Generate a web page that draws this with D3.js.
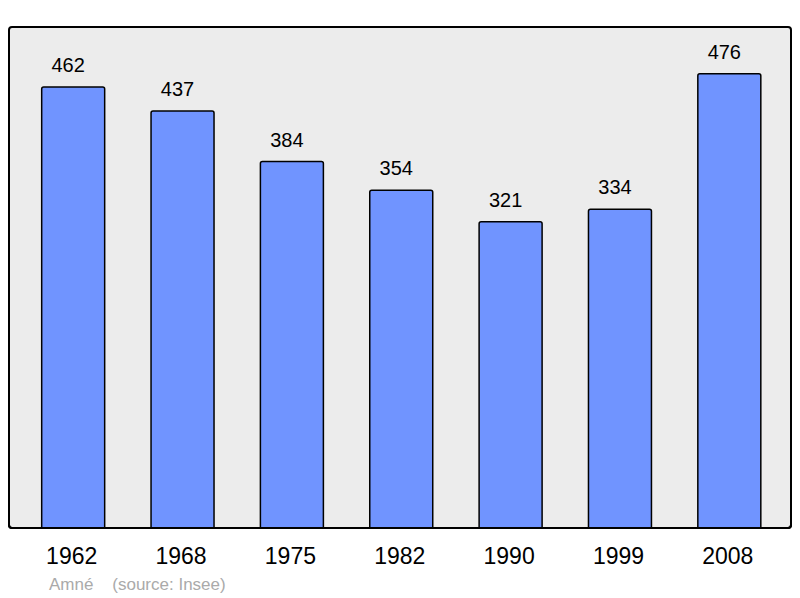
<!DOCTYPE html>
<meta charset="utf-8">
<script src="https://d3js.org/d3.v7.min.js"></script>
<title>Amné</title>
<style>
  body { margin: 0; background: #fff; }
  text { font-family: "Liberation Sans", Arial, sans-serif; }
</style>
<body>
<script>
  var years = ["1962", "1968", "1975", "1982", "1990", "1999", "2008"];
  var population = [462, 437, 384, 354, 321, 334, 476];

  var width = 800, height = 598;
  var frame = {left: 9, top: 27, right: 791, bottom: 528};

  var svg = d3.select("body").append("svg")
      .attr("width", width)
      .attr("height", height);

  svg.append("rect")
      .attr("x", frame.left)
      .attr("y", frame.top)
      .attr("width", frame.right - frame.left)
      .attr("height", frame.bottom - frame.top)
      .attr("rx", 3)
      .attr("fill", "#ececec")
      .attr("stroke", "#000")
      .attr("stroke-width", 2);

  var x = d3.scaleBand()
      .domain(years)
      .range([18.5, 784])
      .paddingInner(0.424)
      .paddingOuter(0.212);

  var y = d3.scaleLinear()
      .domain([0, 525])
      .range([frame.bottom, frame.top]);

  var data = years.map(function (d, i) { return {year: d, value: population[i]}; });

  svg.selectAll(".bar")
      .data(data)
      .enter().append("rect")
      .attr("class", "bar")
      .attr("x", function (d) { return x(d.year); })
      .attr("y", function (d) { return y(d.value); })
      .attr("width", x.bandwidth())
      .attr("height", function (d) { return frame.bottom - y(d.value) + 3; })
      .attr("rx", 2)
      .attr("fill", "#7094ff")
      .attr("stroke", "#000")
      .attr("stroke-width", 1.5);

  // redraw bottom of the frame over the bar feet
  svg.append("rect")
      .attr("x", 0).attr("y", frame.bottom + 1)
      .attr("width", width).attr("height", 10)
      .attr("fill", "#fff");
  svg.append("path")
      .attr("d", "M" + frame.left + "," + (frame.bottom - 3) + "Q" + frame.left + "," + frame.bottom + " " + (frame.left + 3) + "," + frame.bottom +
                 "L" + (frame.right - 3) + "," + frame.bottom + "Q" + frame.right + "," + frame.bottom + " " + frame.right + "," + (frame.bottom - 3))
      .attr("fill", "none")
      .attr("stroke", "#000")
      .attr("stroke-width", 2);

  svg.selectAll(".val")
      .data(data)
      .enter().append("text")
      .attr("class", "val")
      .attr("x", function (d) { return x(d.year) + x.bandwidth() / 2 - 5; })
      .attr("y", function (d) { return y(d.value) - 15; })
      .attr("text-anchor", "middle")
      .attr("font-size", 20)
      .attr("fill", "#000")
      .text(function (d) { return d.value; });

  var xAxis = d3.axisBottom(x).tickSize(0).tickPadding(0);
  var xAxisG = svg.append("g")
      .attr("transform", "translate(-1.5," + (frame.bottom + 36) + ")")
      .call(xAxis);
  xAxisG.select(".domain").remove();
  xAxisG.selectAll("text")
      .attr("dy", 0)
      .attr("font-size", 23)
      .attr("font-family", "Liberation Sans, Arial, sans-serif")
      .attr("fill", "#000");

  svg.append("text")
      .attr("x", 49)
      .attr("y", 590)
      .attr("font-size", 17)
      .attr("fill", "#aaaaaa")
      .attr("xml:space", "preserve")
      .text("Amné    (source: Insee)");
</script>
</body>
